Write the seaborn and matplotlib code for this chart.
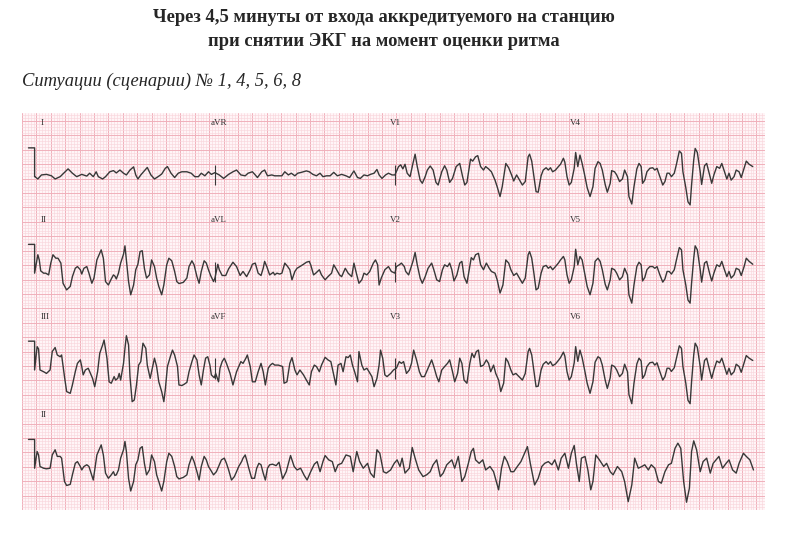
import numpy as np
import pandas as pd
import matplotlib
matplotlib.use("Agg")
import matplotlib.pyplot as plt
import seaborn as sns

# ---------------------------------------------------------------------------
# 12-lead ECG, 25 mm/s, 10 mm/mV.  Each strip: time (s) and voltage (mV)
# at the turning points of the tracing.
# ---------------------------------------------------------------------------
row_leads = [["I", "aVR", "V1", "V4"],
             ["II", "aVL", "V2", "V5"],
             ["III", "aVF", "V3", "V6"],
             ["II"]]

row1_t = [0.00, 0.04, 0.09, 0.16, 0.23, 0.28, 0.35, 0.42, 0.46, 0.52, 0.58, 0.65, 0.72, 0.76,
          0.81, 0.85, 0.88, 0.94, 0.98, 1.04, 1.09, 1.13, 1.18, 1.23, 1.27, 1.32, 1.37, 1.40,
          1.43, 1.47, 1.53, 1.56, 1.61, 1.66, 1.71, 1.76, 1.81, 1.84, 1.89, 1.94, 1.99, 2.04,
          2.11, 2.17, 2.22, 2.27, 2.31, 2.36, 2.41, 2.45, 2.50, 2.56, 2.62, 2.69, 2.75, 2.80,
          2.86, 2.92, 2.96, 3.02, 3.06, 3.09, 3.15, 3.19, 3.23, 3.29, 3.33, 3.38, 3.43, 3.47,
          3.52, 3.56, 3.61, 3.65, 3.70, 3.77, 3.81, 3.86, 3.91, 3.96, 4.00, 4.05, 4.10, 4.15,
          4.20, 4.26, 4.32, 4.37, 4.43, 4.48, 4.52, 4.57, 4.62, 4.66, 4.71, 4.75, 4.78, 4.82,
          4.87, 4.91, 4.96, 5.00, 5.01, 5.05, 5.08, 5.11, 5.14, 5.17, 5.21, 5.25, 5.28, 5.31,
          5.35, 5.38, 5.42, 5.45, 5.49, 5.53, 5.57, 5.60, 5.65, 5.69, 5.72, 5.76, 5.80, 5.85,
          5.90, 5.94, 5.97, 6.00, 6.05, 6.08, 6.12, 6.15, 6.19, 6.23, 6.26, 6.30, 6.34, 6.39,
          6.42, 6.46, 6.49, 6.54, 6.58, 6.62, 6.65, 6.69]
row1_mv = [0.00, -0.08, 0.06, 0.08, 0.03, -0.08, 0.00, 0.17, 0.27, 0.12, 0.00, 0.08, 0.02, 0.12,
           0.00, 0.17, 0.00, -0.08, 0.00, 0.17, 0.21, 0.13, 0.23, 0.12, 0.06, 0.23, 0.34, 0.06,
           -0.08, 0.06, 0.23, 0.32, 0.06, -0.08, 0.00, 0.09, 0.29, 0.35, 0.12, -0.03, 0.12, 0.17,
           0.17, 0.12, 0.00, 0.00, 0.12, 0.03, 0.17, 0.08, 0.14, 0.06, -0.06, 0.08, 0.17, 0.23,
           0.06, 0.03, 0.12, 0.17, 0.06, -0.03, 0.17, 0.23, 0.03, 0.06, 0.03, 0.03, 0.03, 0.17,
           0.06, 0.12, 0.03, 0.12, 0.15, 0.20, 0.17, 0.08, 0.03, 0.12, 0.00, 0.03, 0.03, 0.15,
           0.03, 0.08, 0.03, -0.03, 0.20, -0.03, -0.06, 0.06, 0.03, 0.08, 0.12, 0.25, 0.06, -0.06,
           0.06, 0.12, 0.06, 0.06, 0.12, 0.35, 0.41, 0.27, 0.43, 0.12, 0.00, 0.46, 0.78, 0.35,
           -0.12, -0.23, 0.00, 0.23, 0.37, 0.23, -0.20, -0.29, 0.17, 0.38, 0.23, -0.20, -0.06, 0.35,
           0.46, 0.00, -0.29, -0.20, 0.61, 0.54, 0.69, 0.73, 0.35, 0.23, 0.35, 0.27, 0.17, -0.12,
           -0.35, -0.69, -0.35, 0.46, 0.31, 0.06, -0.15, 0.06]

row2_t = [0.04, 0.06, 0.08, 0.12, 0.15, 0.19, 0.22, 0.25, 0.29, 0.32, 0.36, 0.39, 0.44, 0.49,
          0.52, 0.56, 0.59, 0.63, 0.65, 0.68, 0.72, 0.75, 0.79, 0.82, 0.86, 0.89, 0.92, 0.95,
          0.98, 1.02, 1.06, 1.09, 1.11, 1.13, 1.16, 1.19, 1.23, 1.25, 1.27, 1.30, 1.33, 1.37,
          1.40, 1.43, 1.46, 1.49, 1.52, 1.55, 1.59, 1.62, 1.66, 1.69, 1.72, 1.76, 1.79, 1.83,
          1.86, 1.90, 1.94, 1.97, 2.00, 2.06, 2.11, 2.14, 2.18, 2.21, 2.25, 2.28, 2.31, 2.35,
          2.38, 2.41, 2.44, 2.48, 2.50, 2.54, 2.56, 2.60, 2.65, 2.69, 2.75, 2.80, 2.85, 2.89,
          2.94, 2.99, 3.02, 3.06, 3.10, 3.14, 3.17, 3.19, 3.22, 3.26, 3.31, 3.33, 3.36, 3.40,
          3.43, 3.47, 3.51, 3.54, 3.57, 3.61, 3.64, 3.68, 3.73, 3.77, 3.81, 3.83, 3.87, 3.90,
          3.95, 3.98, 4.03, 4.07, 4.12, 4.15, 4.19, 4.23, 4.26, 4.31, 4.35, 4.40, 4.43, 4.47,
          4.50, 4.54, 4.57, 4.61, 4.65, 4.70, 4.73, 4.76, 4.78, 4.81, 4.86, 4.91, 4.95, 5.00,
          5.02, 5.06, 5.09, 5.13, 5.15, 5.19, 5.22, 5.25, 5.28, 5.31, 5.35, 5.38, 5.42, 5.46,
          5.51, 5.54, 5.58, 5.62, 5.66, 5.69, 5.73, 5.76, 5.79, 5.82, 5.86, 5.90, 5.93, 5.96,
          6.00, 6.04, 6.06, 6.09, 6.12, 6.16, 6.19, 6.23, 6.27, 6.31, 6.34, 6.39, 6.42, 6.46,
          6.50, 6.54, 6.58, 6.61, 6.65, 6.69]
row2_mv = [0.64, 0.46, 0.08, 0.00, 0.00, -0.06, 0.35, 0.64, 0.52, 0.52, 0.35, -0.35, -0.58, -0.46,
           -0.12, 0.17, 0.23, 0.12, -0.03, 0.17, 0.23, 0.00, -0.35, -0.17, 0.46, 0.64, 0.81, 0.52,
           -0.29, -0.41, -0.20, -0.06, -0.10, -0.20, 0.00, 0.35, 0.66, 0.95, 0.46, -0.29, -0.75, -0.41,
           0.12, 0.31, 0.75, 0.78, 0.17, -0.17, -0.06, 0.46, 0.23, -0.17, -0.46, -0.75, -0.41, 0.29,
           0.52, 0.43, 0.06, -0.29, -0.36, -0.32, -0.17, 0.23, 0.43, 0.29, -0.12, -0.35, 0.06, 0.43,
           0.35, 0.12, -0.08, -0.29, -0.17, 0.31, 0.12, -0.08, -0.08, 0.15, 0.38, 0.23, -0.08, 0.06,
           -0.12, 0.12, 0.31, 0.35, 0.00, -0.08, 0.17, 0.41, 0.23, -0.06, 0.03, -0.06, 0.00, -0.03,
           0.00, 0.35, 0.23, 0.12, -0.23, 0.06, 0.17, 0.23, 0.31, 0.38, 0.41, 0.29, -0.06, 0.00,
           0.12, -0.06, -0.23, -0.12, 0.00, 0.29, 0.12, -0.06, -0.12, 0.17, 0.00, -0.12, 0.35, -0.06,
           -0.35, -0.23, 0.00, -0.06, 0.06, 0.35, 0.46, 0.29, -0.41, -0.17, 0.12, 0.23, 0.06, 0.00,
           0.23, 0.29, 0.35, 0.23, 0.06, -0.06, 0.17, 0.41, 0.72, 0.29, -0.17, -0.35, -0.12, 0.17,
           0.35, 0.12, -0.23, -0.29, 0.12, 0.29, 0.23, 0.35, 0.12, -0.27, -0.06, 0.35, 0.41, -0.12,
           -0.35, 0.23, 0.54, 0.46, 0.64, 0.69, 0.29, 0.12, 0.35, 0.17, 0.06, 0.00, -0.23, -0.69,
           -0.41, 0.46, 0.35, 0.12, -0.08, 0.00]

row3_t = [0.03, 0.05, 0.07, 0.12, 0.16, 0.21, 0.24, 0.28, 0.31, 0.35, 0.37, 0.41, 0.44, 0.49,
          0.52, 0.56, 0.59, 0.63, 0.65, 0.67, 0.70, 0.74, 0.77, 0.80, 0.83, 0.87, 0.90, 0.94,
          0.96, 1.00, 1.03, 1.06, 1.10, 1.12, 1.15, 1.17, 1.19, 1.23, 1.25, 1.27, 1.30, 1.32,
          1.35, 1.38, 1.41, 1.44, 1.47, 1.50, 1.54, 1.56, 1.60, 1.63, 1.66, 1.69, 1.72, 1.76,
          1.79, 1.81, 1.84, 1.88, 1.91, 1.94, 1.98, 2.00, 2.04, 2.07, 2.11, 2.14, 2.18, 2.21,
          2.25, 2.28, 2.31, 2.34, 2.37, 2.40, 2.43, 2.45, 2.49, 2.51, 2.55, 2.57, 2.60, 2.63,
          2.66, 2.71, 2.75, 2.80, 2.83, 2.86, 2.89, 2.93, 2.95, 2.99, 3.02, 3.06, 3.10, 3.14,
          3.17, 3.20, 3.24, 3.27, 3.30, 3.33, 3.38, 3.44, 3.46, 3.50, 3.54, 3.57, 3.61, 3.64,
          3.68, 3.73, 3.77, 3.81, 3.84, 3.88, 3.91, 3.95, 3.98, 4.03, 4.07, 4.11, 4.14, 4.18,
          4.21, 4.25, 4.28, 4.32, 4.35, 4.38, 4.41, 4.44, 4.48, 4.50, 4.54, 4.57, 4.61, 4.64,
          4.68, 4.71, 4.75, 4.78, 4.80, 4.83, 4.86, 4.89, 4.94, 4.98, 5.02, 5.06, 5.09, 5.12,
          5.16, 5.20, 5.23, 5.26, 5.30, 5.34, 5.37, 5.41, 5.46, 5.51, 5.54, 5.58, 5.61, 5.65,
          5.69, 5.73, 5.76, 5.80, 5.83, 5.87, 5.90, 5.93, 5.96, 6.00, 6.04, 6.07, 6.10, 6.13,
          6.16, 6.19, 6.23, 6.27, 6.30, 6.33, 6.37, 6.40, 6.44, 6.47, 6.51, 6.54, 6.57, 6.61,
          6.64, 6.68]
row3_mv = [0.81, 0.73, 0.00, -0.06, -0.12, 0.00, 0.64, 0.78, 0.52, 0.46, 0.52, -0.23, -0.75, -0.81,
           -0.52, -0.06, 0.23, 0.35, 0.12, -0.17, 0.00, 0.06, -0.12, -0.29, -0.58, -0.06, 0.58, 0.87,
           1.04, 0.41, -0.41, -0.46, -0.23, -0.35, -0.29, -0.12, -0.35, 0.23, 0.75, 1.19, 0.87, -0.23,
           -1.10, -1.04, -0.52, 0.17, 0.29, 0.93, 0.75, 0.17, -0.29, 0.06, 0.41, 0.12, -0.41, -0.75,
           -1.10, -0.69, 0.12, 0.46, 0.69, 0.52, 0.12, -0.52, -0.54, -0.50, -0.43, -0.06, 0.29, 0.52,
           0.35, -0.17, -0.52, 0.00, 0.41, 0.46, 0.17, -0.17, -0.27, -0.12, -0.41, 0.06, 0.29, 0.41,
           0.23, -0.12, -0.52, -0.06, 0.12, 0.29, 0.23, 0.41, 0.52, 0.12, -0.41, -0.41, -0.06, 0.23,
           -0.06, -0.52, 0.06, 0.17, 0.23, 0.17, 0.17, 0.12, -0.46, -0.41, 0.23, 0.43, 0.00, -0.17,
           0.00, -0.17, -0.35, -0.52, -0.06, 0.17, 0.12, -0.06, 0.17, 0.44, 0.35, 0.29, -0.06, -0.52,
           0.17, 0.23, -0.06, 0.46, 0.43, 0.52, 0.17, -0.06, -0.41, 0.64, 0.17, 0.00, 0.06, -0.06,
           -0.23, -0.58, -0.29, 0.17, 0.69, 0.41, -0.17, -0.23, -0.12, 0.00, 0.06, 0.29, 0.23, 0.29,
           -0.12, 0.00, 0.23, 0.69, 0.35, -0.06, -0.23, -0.23, 0.06, 0.35, 0.12, -0.23, -0.41, 0.00,
           0.12, 0.23, 0.35, -0.06, -0.41, -0.12, 0.41, 0.23, -0.35, -0.46, 0.23, 0.58, 0.43, 0.64,
           0.69, 0.12, 0.17, 0.35, 0.23, -0.06, 0.17, -0.12, -0.35, -0.75, -0.46, 0.41, 0.29, 0.00,
           -0.17, -0.12]

# last column (V4 / V5 / V6) and the end of the third column, shared turning points
tail_t = [6.74, 6.77, 6.81, 6.85, 6.87, 6.90, 6.93, 6.96, 6.99, 7.03, 7.06, 7.10, 7.13, 7.16,
          7.19, 7.23, 7.27, 7.30, 7.34, 7.36, 7.39, 7.42, 7.45, 7.49, 7.51, 7.54, 7.57, 7.60,
          7.63, 7.67, 7.71, 7.75, 7.78, 7.82, 7.85, 7.88, 7.92, 7.95, 7.99, 8.01, 8.05, 8.08,
          8.12, 8.16, 8.19, 8.23, 8.25, 8.29, 8.32, 8.36, 8.39, 8.42, 8.44, 8.47, 8.50, 8.54,
          8.58, 8.61, 8.64, 8.68, 8.72, 8.75, 8.78, 8.81, 8.84, 8.88, 8.91, 8.95, 8.98, 9.00,
          9.04, 9.07, 9.10, 9.12, 9.15, 9.17, 9.20, 9.24, 9.26, 9.30, 9.33, 9.37, 9.40, 9.43,
          9.47, 9.51, 9.54, 9.57, 9.61, 9.64, 9.67, 9.71, 9.74, 9.78, 9.81, 9.85, 9.88, 9.92,
          9.97]
row1_tail_mv = [-0.23, -0.29, -0.17, 0.69, 0.78, 0.54, 0.00, -0.52, -0.54, 0.03, 0.23, 0.31, 0.23,
                0.31, 0.17, 0.23, 0.35, 0.43, 0.64, 0.50, 0.00, -0.29, -0.20, 0.29, 0.84, 0.35,
                0.75, 0.46, 0.12, -0.38, -0.69, -0.35, 0.29, 0.52, 0.46, 0.23, -0.27, -0.54, -0.23,
                0.21, 0.17, 0.06, -0.17, -0.08, 0.23, 0.00, -0.69, -0.95, -0.35, 0.27, 0.46, 0.35,
                -0.23, -0.12, 0.17, 0.29, 0.31, 0.23, 0.29, 0.00, -0.29, -0.17, 0.12, 0.12, 0.00,
                0.12, 0.43, 0.89, 0.81, 0.17, -0.38, -0.87, -0.98, -0.29, 0.58, 0.98, 0.84, 0.17,
                -0.27, 0.38, 0.46, 0.06, -0.23, 0.06, 0.35, 0.29, 0.46, 0.23, -0.08, 0.12, -0.12,
                0.00, 0.23, 0.17, -0.03, 0.29, 0.54, 0.43, 0.35]
row2_tail_mv = [-0.29, -0.35, -0.17, 0.64, 0.75, 0.52, 0.00, -0.58, -0.52, 0.00, 0.23, 0.27, 0.17,
                0.23, 0.12, 0.23, 0.35, 0.46, 0.58, 0.46, -0.06, -0.35, -0.23, 0.23, 0.83, 0.29,
                0.58, 0.46, 0.06, -0.46, -0.75, -0.35, 0.41, 0.52, 0.41, 0.12, -0.38, -0.58, -0.23,
                0.17, 0.12, 0.00, -0.23, -0.12, 0.17, -0.06, -0.75, -1.04, -0.41, 0.23, 0.38, 0.29,
                -0.27, -0.15, 0.12, 0.23, 0.23, 0.17, 0.23, -0.06, -0.31, -0.20, 0.06, 0.06, -0.03,
                0.12, 0.46, 0.89, 0.81, 0.12, -0.41, -0.93, -1.04, -0.35, 0.52, 0.95, 0.81, 0.12,
                -0.31, 0.35, 0.41, 0.00, -0.27, 0.00, 0.29, 0.23, 0.41, 0.17, -0.12, 0.06, -0.17,
                -0.06, 0.17, 0.12, -0.08, 0.23, 0.52, 0.41, 0.31]
row3_tail_mv = [-0.23, -0.35, -0.12, 0.64, 0.75, 0.52, -0.03, -0.58, -0.56, 0.00, 0.20, 0.29, 0.20,
                0.29, 0.15, 0.21, 0.33, 0.43, 0.62, 0.48, -0.06, -0.35, -0.23, 0.25, 0.81, 0.30,
                0.69, 0.43, 0.06, -0.46, -0.81, -0.41, 0.27, 0.46, 0.41, 0.17, -0.35, -0.64, -0.27,
                0.17, 0.12, 0.00, -0.23, -0.12, 0.20, -0.06, -0.85, -1.17, -0.46, 0.21, 0.41, 0.31,
                -0.29, -0.17, 0.12, 0.25, 0.27, 0.17, 0.25, -0.06, -0.35, -0.23, 0.06, 0.06, -0.05,
                0.08, 0.41, 0.84, 0.75, 0.12, -0.46, -1.05, -1.17, -0.41, 0.52, 0.93, 0.79, 0.12,
                -0.35, 0.33, 0.41, 0.00, -0.29, 0.00, 0.31, 0.25, 0.41, 0.17, -0.15, 0.06, -0.17,
                -0.06, 0.20, 0.12, -0.08, 0.25, 0.50, 0.41, 0.33]

# rhythm strip, lead II, 10 s
row4_t = [0.03, 0.05, 0.07, 0.12, 0.16, 0.21, 0.24, 0.28, 0.31, 0.35, 0.37, 0.41, 0.44, 0.49,
          0.52, 0.56, 0.59, 0.63, 0.65, 0.68, 0.72, 0.75, 0.78, 0.81, 0.86, 0.89, 0.92, 0.95,
          0.98, 1.02, 1.06, 1.09, 1.11, 1.13, 1.16, 1.19, 1.23, 1.25, 1.27, 1.30, 1.33, 1.37,
          1.40, 1.43, 1.46, 1.49, 1.52, 1.55, 1.59, 1.62, 1.66, 1.69, 1.72, 1.76, 1.79, 1.83,
          1.86, 1.90, 1.94, 1.97, 2.00, 2.06, 2.11, 2.14, 2.18, 2.21, 2.25, 2.28, 2.31, 2.35,
          2.38, 2.41, 2.44, 2.48, 2.52, 2.56, 2.59, 2.63, 2.66, 2.69, 2.73, 2.77, 2.80, 2.83,
          2.87, 2.89, 2.92, 2.94, 2.97, 3.01, 3.05, 3.08, 3.11, 3.14, 3.17, 3.20, 3.23, 3.26,
          3.30, 3.35, 3.39, 3.44, 3.49, 3.55, 3.60, 3.64, 3.69, 3.74, 3.78, 3.83, 3.88, 3.92,
          3.96, 4.00, 4.03, 4.08, 4.13, 4.17, 4.21, 4.26, 4.32, 4.38, 4.42, 4.47, 4.51, 4.56,
          4.62, 4.66, 4.71, 4.75, 4.79, 4.84, 4.88, 4.94, 4.99, 5.03, 5.07, 5.10, 5.14, 5.20,
          5.24, 5.28, 5.33, 5.39, 5.44, 5.49, 5.53, 5.58, 5.63, 5.67, 5.72, 5.79, 5.83, 5.88,
          5.93, 5.97, 6.02, 6.06, 6.09, 6.12, 6.17, 6.22, 6.26, 6.32, 6.37, 6.44, 6.48, 6.52,
          6.56, 6.61, 6.65, 6.70, 6.75, 6.80, 6.84, 6.88, 6.94, 6.99, 7.04, 7.08, 7.13, 7.18,
          7.22, 7.27, 7.31, 7.36, 7.41, 7.45, 7.49, 7.52, 7.56, 7.59, 7.64, 7.68, 7.72, 7.75,
          7.79, 7.84, 7.90, 7.94, 7.99, 8.03, 8.09, 8.15, 8.19, 8.24, 8.29, 8.33, 8.38, 8.43,
          8.47, 8.52, 8.56, 8.61, 8.66, 8.70, 8.75, 8.80, 8.84, 8.89, 8.93, 8.97, 9.01, 9.05,
          9.09, 9.12, 9.15, 9.19, 9.24, 9.28, 9.33, 9.38, 9.42, 9.46, 9.50, 9.55, 9.60, 9.64,
          9.69, 9.74, 9.78, 9.84, 9.88, 9.93, 9.98]
row4_mv = [0.58, 0.46, 0.06, 0.00, -0.02, 0.00, 0.46, 0.64, 0.41, 0.41, 0.35, -0.46, -0.60, -0.56,
           -0.23, 0.17, 0.23, 0.06, -0.06, 0.06, 0.12, 0.06, -0.17, -0.41, 0.46, 0.64, 0.81, 0.46,
           -0.17, -0.35, -0.23, -0.12, -0.25, -0.23, -0.06, 0.35, 0.64, 0.93, 0.58, -0.35, -0.79, -0.46,
           0.12, 0.29, 0.69, 0.75, 0.17, -0.23, -0.06, 0.46, 0.23, -0.23, -0.46, -0.79, -0.46, 0.23,
           0.52, 0.41, 0.06, -0.29, -0.37, -0.32, -0.23, 0.12, 0.41, 0.23, -0.12, -0.41, 0.06, 0.41,
           0.29, 0.06, -0.06, -0.23, -0.12, 0.12, 0.29, 0.35, 0.17, -0.06, -0.41, -0.29, -0.12, 0.06,
           0.23, 0.35, 0.46, 0.29, 0.00, -0.35, -0.35, 0.00, 0.17, 0.12, -0.17, -0.41, 0.00, 0.12,
           0.14, 0.09, 0.21, -0.37, -0.12, 0.44, 0.06, -0.06, 0.00, -0.25, -0.41, -0.12, 0.14, 0.23,
           -0.12, 0.23, 0.44, 0.29, 0.23, -0.12, 0.12, 0.17, 0.46, 0.41, -0.12, 0.58, 0.23, 0.00,
           0.17, -0.17, -0.32, 0.64, 0.52, -0.12, -0.17, -0.06, 0.17, 0.29, 0.06, 0.35, -0.17, 0.00,
           0.72, 0.35, -0.06, -0.29, -0.23, -0.12, 0.12, 0.29, -0.29, -0.17, 0.12, 0.29, 0.00, 0.41,
           -0.46, -0.29, 0.17, 0.58, 0.69, 0.29, 0.17, 0.29, -0.06, 0.06, -0.12, -0.75, 0.00, 0.41,
           0.23, -0.12, -0.12, 0.06, 0.23, 0.52, 0.75, 0.17, -0.58, -0.35, 0.06, 0.17, 0.23, 0.12,
           0.29, -0.06, 0.35, 0.52, 0.00, 0.52, 0.79, 0.17, -0.46, 0.35, 0.41, -0.06, -0.75, -0.46,
           0.46, 0.29, 0.06, 0.17, -0.12, -0.23, 0.06, -0.12, -0.46, -1.16, -0.58, 0.35, 0.00, 0.06,
           0.12, -0.06, 0.12, 0.00, -0.46, -0.52, -0.12, 0.12, 0.17, 0.69, 0.87, 0.69, -0.46, -1.18,
           -0.69, 0.58, 0.95, 0.64, -0.12, 0.23, 0.35, -0.17, 0.17, 0.29, 0.41, 0.00, 0.17, 0.29,
           -0.06, -0.17, 0.17, 0.52, 0.41, 0.29, -0.06]

# lead-change markers (s) in the 3x4 rows
lead_switch_t = [2.5, 5.0]

title_lines = ["Через 4,5 минуты от входа аккредитуемого на станцию",
               "при снятии ЭКГ на момент оценки ритма"]
subtitle = "Ситуации (сценарии) № 1, 4, 5, 6, 8"

# ---------------------------------------------------------------------------
MM_PER_S = 25.0
MM_PER_MV = 10.0
PAPER_W, PAPER_H = 258.0, 137.8      # visible paper, mm
TRACE_X0 = 4.5                       # start of the tracing on the paper, mm
row_base = [115.7, 82.2, 48.6, 14.5]  # isoelectric line of each row, mm

rows = [
    (row1_t + tail_t[1:], row1_mv + row1_tail_mv[1:]),
    (row2_t + tail_t[1:], row2_mv + row2_tail_mv[1:]),
    (row3_t + tail_t[1:], row3_mv + row3_tail_mv[1:]),
    (row4_t, row4_mv),
]

frames = []
for i, ((t, mv), base) in enumerate(zip(rows, row_base)):
    t = np.asarray(t, float)
    mv = np.asarray(mv, float)
    # 1 mV calibration step in front of each row
    cal_t = np.array([-0.09, -0.005, -0.005])
    cal_mv = np.array([1.0, 1.0, 0.0])
    tt = np.concatenate([cal_t, t])
    vv = np.concatenate([cal_mv, mv])
    frames.append(pd.DataFrame({"x": TRACE_X0 + MM_PER_S * tt,
                                "y": base + MM_PER_MV * vv,
                                "row": i}))
ecg = pd.concat(frames, ignore_index=True)

sns.set_style("white")
plt.rcParams["font.family"] = ["Liberation Serif", "DejaVu Serif"]

fig = plt.figure(figsize=(7.87, 5.57), dpi=100)
ax = fig.add_axes([22 / 787, 47 / 557, 743 / 787, 397 / 557])
ax.set_facecolor("#fff5f7")

# ECG paper grid
ax.set_xticks(np.arange(0, PAPER_W + 0.1, 5))
ax.set_xticks(np.arange(0, PAPER_W + 0.1, 1), minor=True)
ax.set_yticks(np.arange(0, PAPER_H + 0.1, 5))
ax.set_yticks(np.arange(0, PAPER_H + 0.1, 1), minor=True)
ax.grid(which="minor", color="#f9d6dc", linewidth=0.45)
ax.grid(which="major", color="#f0b0bb", linewidth=0.7)
ax.set_axisbelow(True)
ax.tick_params(which="both", length=0, labelbottom=False, labelleft=False)
for s in ax.spines.values():
    s.set_visible(False)

sns.lineplot(data=ecg, x="x", y="y", units="row", estimator=None, sort=False,
             color="#383838", linewidth=1.0, legend=False, ax=ax)

# lead-change ticks
for base in row_base[:3]:
    xs = [TRACE_X0 + MM_PER_S * ts for ts in lead_switch_t]
    ax.vlines(xs, base - 3.0, base + 4.0, color="#383838", linewidth=0.8)

# lead names
for leads, base in zip(row_leads, row_base):
    for k, name in enumerate(leads):
        x = 6.6 if k == 0 else TRACE_X0 + 62.5 * k - 1.6
        ax.text(x, base + 18.5, name, fontsize=6.5, color="#333333",
                ha="left", va="center")

ax.set_xlim(0, PAPER_W)
ax.set_ylim(0, PAPER_H)
ax.set_xlabel("")
ax.set_ylabel("")

fig.text(384 / 787, 1 - 18 / 557, title_lines[0], ha="center", va="center",
         fontsize=13.3, fontweight="bold")
fig.text(384 / 787, 1 - 41 / 557, title_lines[1], ha="center", va="center",
         fontsize=13.3, fontweight="bold")
fig.text(22 / 787, 1 - 81 / 557, subtitle, ha="left", va="center",
         fontsize=13.3, style="italic")

fig.savefig("out.png", dpi=100, facecolor="white")
